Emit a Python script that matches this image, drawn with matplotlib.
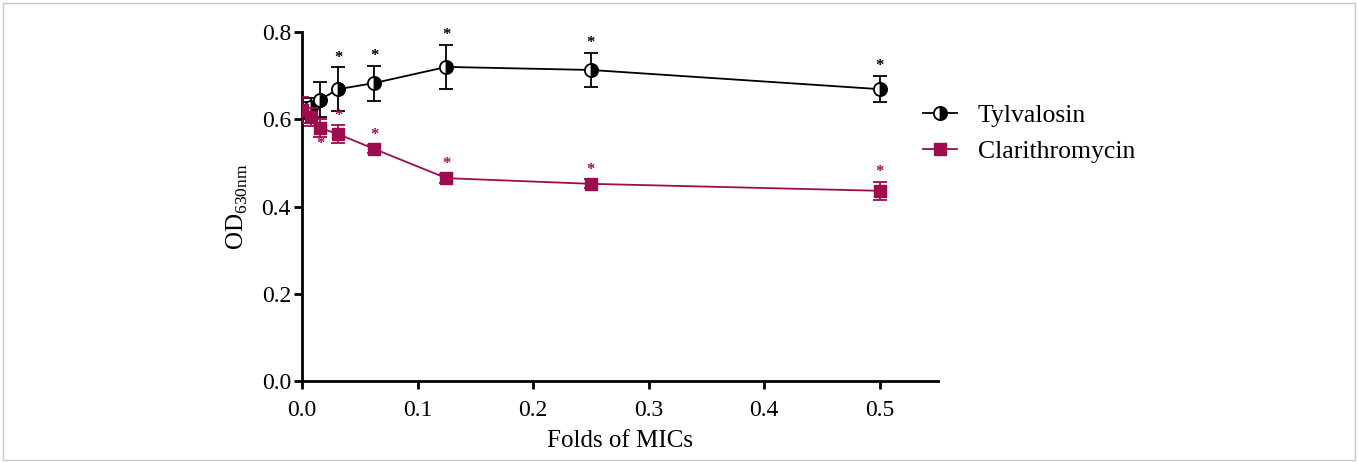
import matplotlib.pyplot as plt
from matplotlib.lines import Line2D
from matplotlib.patches import Rectangle

plt.rcParams["font.family"] = ["Liberation Serif", "DejaVu Serif"]

# fold of MIC
folds = [0, 1 / 128, 1 / 64, 1 / 32, 1 / 16, 1 / 8, 1 / 4, 1 / 2]

tyl_mean = [0.62, 0.628, 0.645, 0.669, 0.683, 0.720, 0.713, 0.669]
tyl_err = [0.02, 0.02, 0.04, 0.05, 0.04, 0.05, 0.04, 0.03]
tyl_star = [False, False, False, True, True, True, True, True]

cla_mean = [0.621, 0.605, 0.580, 0.566, 0.532, 0.465, 0.452, 0.436]
cla_err = [0.03, 0.02, 0.02, 0.02, 0.01, 0.01, 0.01, 0.02]
# star position: 1 above, -1 below, 0 none
cla_star = [0, 0, -1, 1, 1, 1, 1, 1]

red = "#9E0B4F"

fig = plt.figure(figsize=(13.58, 4.62), dpi=100)
ax = fig.add_axes([0.2224, 0.1753, 0.468, 0.7554])

ax.errorbar(folds, tyl_mean, yerr=tyl_err, color="black", lw=1.3,
            marker="o", ms=9.5, fillstyle="right", mfc="black", mec="black",
            mew=1.3, markerfacecoloralt="white", capsize=5, capthick=1.3,
            elinewidth=1.3, zorder=3)
ax.errorbar(folds, cla_mean, yerr=cla_err, color=red, lw=1.3,
            marker="s", ms=9, mfc=red, mec=red, capsize=5, capthick=1.3,
            elinewidth=1.3, zorder=4)

for x, y, e, s in zip(folds, tyl_mean, tyl_err, tyl_star):
    if s:
        ax.text(x, y + e + 0.004, "*", ha="center", va="bottom",
                fontsize=12, fontweight="bold", color="black")
for x, y, e, s in zip(folds, cla_mean, cla_err, cla_star):
    if s == 1:
        ax.text(x, y + e + 0.004, "*", ha="center", va="bottom",
                fontsize=12, fontweight="bold", color=red)
    elif s == -1:
        ax.text(x, y - e - 0.035, "*", ha="center", va="bottom",
                fontsize=12, fontweight="bold", color=red)

ax.set_xlim(0, 0.55)
ax.set_ylim(0, 0.8)
ax.set_xticks([0.0, 0.1, 0.2, 0.3, 0.4, 0.5])
ax.set_yticks([0.0, 0.2, 0.4, 0.6, 0.8])
ax.xaxis.set_major_formatter(plt.FormatStrFormatter("%.1f"))
ax.yaxis.set_major_formatter(plt.FormatStrFormatter("%.1f"))
ax.spines["top"].set_visible(False)
ax.spines["right"].set_visible(False)
ax.spines["left"].set_linewidth(2)
ax.spines["bottom"].set_linewidth(2)
ax.tick_params(width=2, length=6, labelsize=17)
ax.tick_params(axis="x", pad=8)
ax.tick_params(axis="y", pad=2)

ax.set_xlabel("Folds of MICs", fontsize=18, labelpad=6)
ax.set_ylabel(r"OD$_{\mathregular{630nm}}$", fontsize=18, labelpad=8)

handles = [
    Line2D([], [], color="black", lw=1.3, marker="o", ms=9.5, fillstyle="right",
           mfc="black", mec="black", markerfacecoloralt="white", mew=1.3),
    Line2D([], [], color=red, lw=1.3, marker="s", ms=9, mfc=red, mec=red),
]
ax.legend(handles, ["Tylvalosin", "Clarithromycin"], loc="upper left",
          bbox_to_anchor=(0.94, 0.86), frameon=False, fontsize=18.5,
          handlelength=1.35, handletextpad=0.8, labelspacing=0.5)

fig.patches.append(Rectangle((0.002, 0.004), 0.996, 0.99, transform=fig.transFigure,
                             fill=False, ec="#c8c8c8", lw=1))

fig.savefig("out.png", dpi=100)
